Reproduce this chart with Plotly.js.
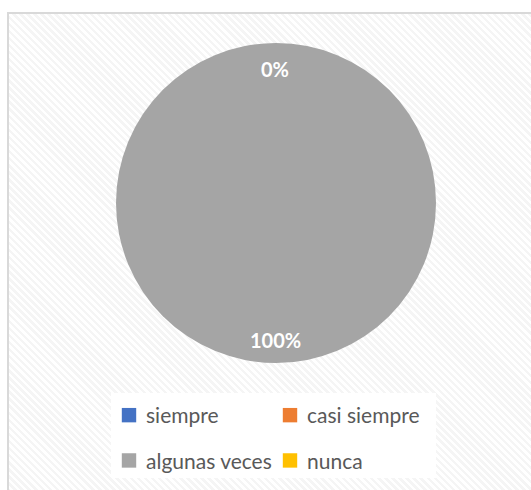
<!DOCTYPE html>
<html>
<head>
<meta charset="utf-8">
<script src="https://cdn.plot.ly/plotly-3.0.1.min.js"></script>
<style>
  html, body { margin: 0; padding: 0; background: #ffffff; width: 531px; height: 490px; overflow: hidden; }
  #frame {
    position: absolute; left: 7px; top: 12px; width: 540px; height: 500px;
    border: 2px solid #d9d9d9; box-sizing: border-box;
    background: repeating-linear-gradient(45deg, #ffffff 0px, #ffffff 2.5px, #f5f5f5 2.5px, #f5f5f5 5px);
  }
  #chart { position: absolute; left: 0; top: 0; width: 531px; height: 490px; }
</style>
</head>
<body>
<div id="frame"></div>
<div id="chart"></div>
<script>
const categories = ["siempre", "casi siempre", "algunas veces", "nunca"];
const values = [0, 0, 100, 0];
const colors = ["#4472C4", "#ED7D31", "#A5A5A5", "#FFC000"];

const total = values.reduce((a, b) => a + b, 0);
const pctText = values.map(v => Math.round(v / total * 100) + "%");
const zeroText = pctText[values.indexOf(0)];
const fullText = pctText[values.indexOf(Math.max(...values))];

const W = 531, H = 490;
const L = 116, R = 95, T = 43, B = 127;
const pw = W - L - R, ph = H - T - B;
const px = x => (x - L) / pw;
const py = y => (H - B - y) / ph;
const FONT = "Lato, 'Open Sans', sans-serif";

const data = [{
  type: "pie",
  labels: categories,
  values: values,
  marker: { colors: colors, line: { width: 0 } },
  sort: false,
  direction: "clockwise",
  rotation: 0,
  textinfo: "none",
  hoverinfo: "label+percent",
  showlegend: true
}];

const layout = {
  width: W, height: H,
  margin: { l: L, r: R, t: T, b: B, autoexpand: false },
  paper_bgcolor: "rgba(0,0,0,0)",
  plot_bgcolor: "rgba(0,0,0,0)",
  font: { family: FONT, color: "#595959" },
  showlegend: true,
  legend: {
    orientation: "h",
    xref: "paper", yref: "paper",
    x: px(106), xanchor: "left",
    y: py(395), yanchor: "top",
    entrywidth: 116,
    itemwidth: 30,
    bgcolor: "rgba(0,0,0,0)",
    font: { size: 21, color: "#595959", family: FONT },
    traceorder: "normal"
  },
  shapes: [{
    type: "rect", xref: "paper", yref: "paper", layer: "below",
    x0: px(111), x1: px(436), y0: py(393), y1: py(478),
    fillcolor: "#ffffff", line: { width: 0 }
  }],
  annotations: [
    { xref: "paper", yref: "paper", x: px(275), y: py(69), xanchor: "center", yanchor: "middle",
      text: "<b>" + zeroText + "</b>",
      showarrow: false, font: { size: 20, color: "#ffffff", family: FONT } },
    { xref: "paper", yref: "paper", x: px(275), y: py(340), xanchor: "center", yanchor: "middle",
      text: "<b>" + fullText + "</b>",
      showarrow: false, font: { size: 20, color: "#ffffff", family: FONT } }
  ]
};

Plotly.newPlot("chart", data, layout, { displayModeBar: false, staticPlot: true }).then(gd => {
  // widen the gap between the two legend rows, as in the reference
  const sb = gd.querySelector(".legend .scrollbox");
  if (sb) sb.removeAttribute("clip-path");
  const items = Array.from(gd.querySelectorAll(".legend .traces"));
  const parse = el => {
    const m = /translate\(\s*([-\d.]+)[ ,]+([-\d.]+)\s*\)/.exec(el.getAttribute("transform") || "");
    return m ? [parseFloat(m[1]), parseFloat(m[2])] : [0, 0];
  };
  const ys = items.map(el => parse(el)[1]);
  const minY = Math.min(...ys);
  items.forEach(el => {
    const [x, y] = parse(el);
    if (y > minY + 1) el.setAttribute("transform", "translate(" + x + "," + (y + 15) + ")");
  });
  // slightly larger legend swatches, closer to their text
  gd.querySelectorAll(".legend .legendpoints path").forEach(p => {
    const t = p.getAttribute("transform") || "";
    p.setAttribute("transform", t + " translate(3,0) scale(1.2)");
  });
});
</script>
</body>
</html>
